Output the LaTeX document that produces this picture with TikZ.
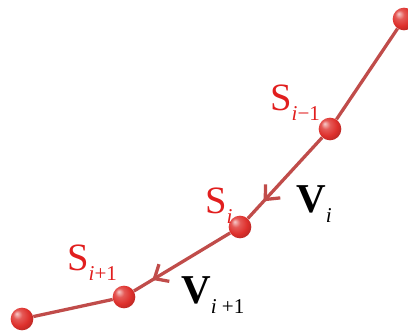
\documentclass[tikz,border=0pt]{standalone}
\usepackage{fontspec}
\setmainfont{Liberation Serif}
\usepackage{tikz}
\usetikzlibrary{arrows.meta, decorations.markings}
\definecolor{ballcolor}{RGB}{222,48,44}
\definecolor{segcolor}{RGB}{192,76,74}
\definecolor{lblcolor}{RGB}{225,30,30}
\pgfdeclareradialshading{redball}{\pgfqpoint{-12bp}{12bp}}{%
  color(0bp)=(ballcolor!25!white);
  color(10bp)=(ballcolor!80!white);
  color(22bp)=(ballcolor);
  color(32bp)=(ballcolor!82!black);
  color(50bp)=(ballcolor!55!black)}
\newcommand{\lowsub}[1]{\raisebox{-9pt}{\normalfont\fontsize{18}{18}\selectfont #1}}

\begin{document}
\begin{tikzpicture}[x=0.03cm, y=-0.03cm,
    ball/.style={
        circle, inner sep=0pt, minimum size=0.68cm,
        shading=redball
    },
    seg/.style={draw=segcolor, line width=2.8pt},
    midarrow/.style={
        postaction={decorate},
        decoration={markings,
            mark=at position #1 with {\arrow{Straight Barb[length=3.4mm, width=6mm]}}}
    },
    slbl/.style={
        anchor=base west, inner sep=0pt, text=lblcolor,
        font=\fontsize{33}{36}\selectfont
    },
    vlbl/.style={
        anchor=base west, inner sep=0pt,
        font=\fontsize{35}{38}\selectfont\bfseries
    }
]
\useasboundingbox (0,0) rectangle (408,332);

% =========================
% POINTS
% =========================
\node[ball] (Ptop) at (404,19) {};
\node[ball] (Sm1) at (330,129) {};
\node[ball] (Si) at (240,227) {};
\node[ball] (Sp1) at (124,297) {};
\node[ball] (Pend) at (22,319) {};

% =========================
% SEGMENTS
% =========================
\draw[seg] (Ptop) -- (Sm1);
\draw[seg, midarrow=0.79] (Sm1) -- (Si);
\draw[seg, midarrow=0.81] (Si) -- (Sp1);
\draw[seg] (Sp1) -- (Pend);

% =========================
% LABELS
% =========================
\node[slbl] (lSm1) at (270,110) {S\lowsub{\itshape i\upshape −1}};
\node[slbl] (lSi) at (205,213) {S\lowsub{\itshape i}};
\node[slbl] (lSp1) at (67,270) {S\lowsub{\itshape i\upshape +1}};

\node[vlbl] (lVi) at (296,212) {V\lowsub{\itshape i}};
\node[vlbl] (lVp1) at (181,303) {V\lowsub{\itshape i \upshape +1}};

\end{tikzpicture}
\end{document}
